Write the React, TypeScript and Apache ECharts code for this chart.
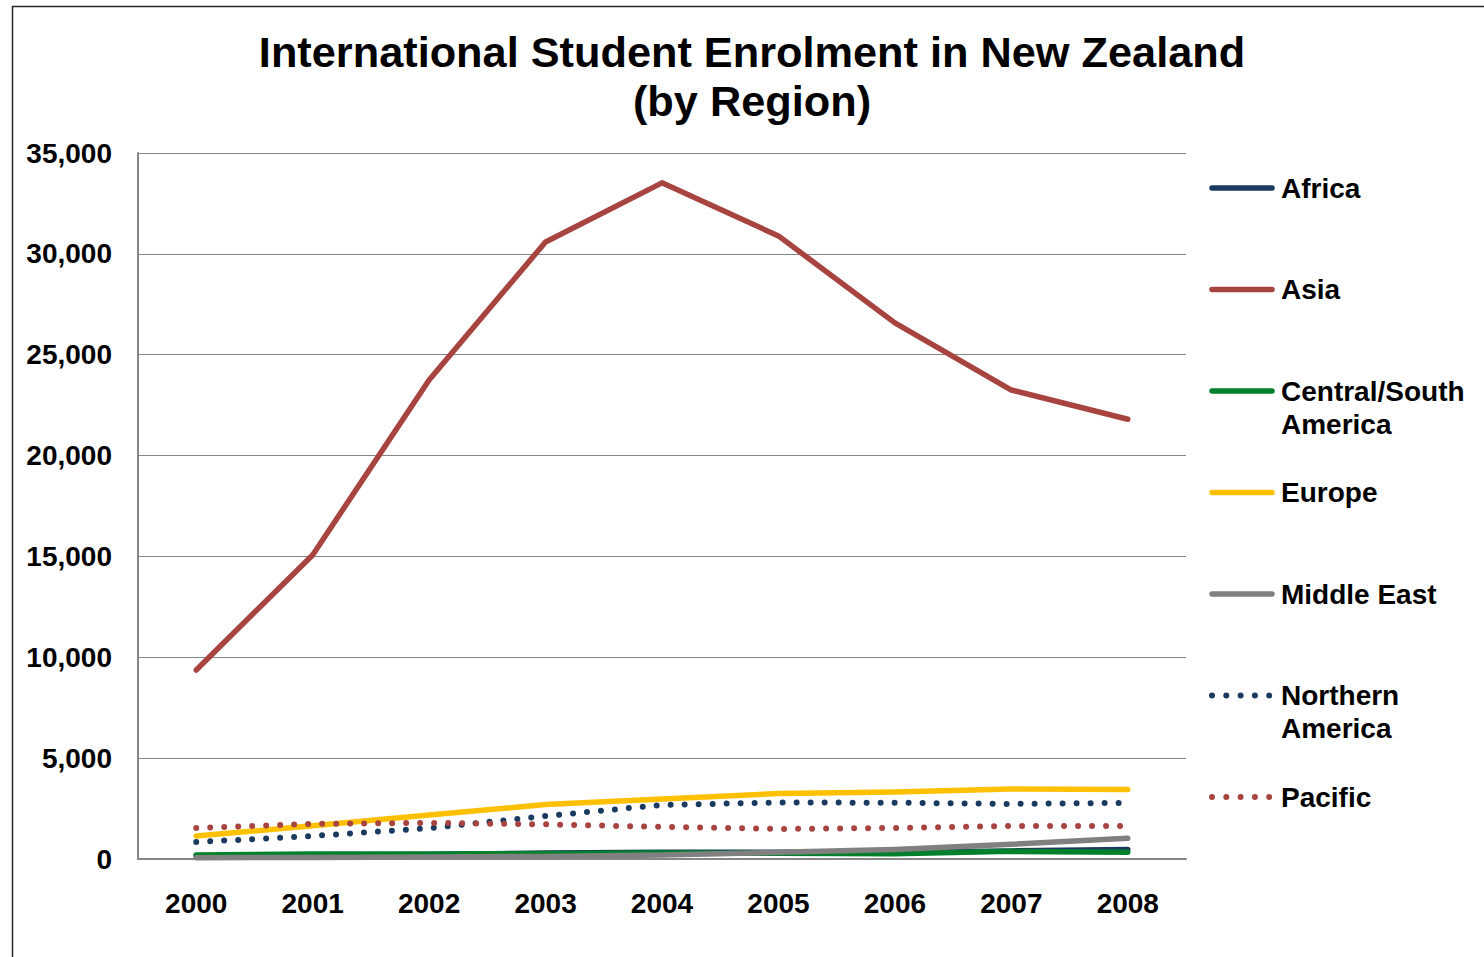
import React, { useEffect, useRef } from "react";
import * as echarts from "echarts";

const years = ["2000", "2001", "2002", "2003", "2004", "2005", "2006", "2007", "2008"];
const africa = [150, 200, 220, 300, 330, 330, 330, 400, 470];
const asia = [9370, 15070, 23750, 30590, 33520, 30890, 26580, 23250, 21800];
const centralSouthAmerica = [200, 250, 250, 260, 300, 280, 260, 380, 330];
const europe = [1140, 1650, 2180, 2700, 2970, 3250, 3320, 3470, 3450];
const middleEast = [60, 80, 100, 130, 200, 330, 470, 730, 1030];
const northernAmerica = [840, 1140, 1530, 2130, 2680, 2800, 2790, 2730, 2780];
const pacific = [1540, 1740, 1790, 1720, 1590, 1490, 1540, 1640, 1640];

const seriesNames = ["Africa", "Asia", "Central/South\nAmerica", "Europe", "Middle East", "Northern\nAmerica", "Pacific"];
const seriesData = [africa, asia, centralSouthAmerica, europe, middleEast, northernAmerica, pacific];
const seriesColors = ["#1B3A60", "#A8443F", "#00802A", "#FFC000", "#808080", "#1B3A60", "#A8443F"];
const seriesDotted = [false, false, false, false, false, true, true];

const FONT = "Arial, 'Liberation Sans', Helvetica, sans-serif";

export default function App() {
  const ref = useRef<HTMLDivElement>(null);
  useEffect(() => {
    if (!ref.current) return;
    const chart = echarts.init(ref.current, undefined, { renderer: "svg" });

    const legendGraphics: any[] = [];
    seriesNames.forEach((name, i) => {
      const cy = 188 + i * 101.5;
      legendGraphics.push({
        type: "line",
        shape: { x1: 1212, y1: cy, x2: 1272, y2: cy },
        style: {
          stroke: seriesColors[i],
          lineWidth: seriesDotted[i] ? 6 : 5.5,
          lineCap: "round",
          lineDash: seriesDotted[i] ? [0, 14.3] : null,
        },
      });
      legendGraphics.push({
        type: "text",
        x: 1281,
        y: cy - 16.5,
        style: {
          text: name,
          font: `bold 28px ${FONT}`,
          fill: "#000",
          lineHeight: 33,
          verticalAlign: "top",
          align: "left",
        },
      });
    });

    chart.setOption({
      animation: false,
      backgroundColor: "#fff",
      title: {
        text: "International Student Enrolment in New Zealand\n(by Region)",
        left: 752,
        top: 27,
        textAlign: "center",
        padding: 0,
        textStyle: {
          fontFamily: FONT,
          fontWeight: "bold",
          fontSize: 43.3,
          lineHeight: 49,
          color: "#000",
        },
      },
      grid: { left: 138, right: 298, top: 153, bottom: 98, containLabel: false },
      xAxis: {
        type: "category",
        data: years,
        boundaryGap: true,
        axisLine: { show: true, lineStyle: { color: "#868686", width: 2 } },
        axisTick: { show: false },
        axisLabel: {
          margin: 30,
          color: "#000",
          fontFamily: FONT,
          fontWeight: "bold",
          fontSize: 28,
        },
      },
      yAxis: {
        type: "value",
        min: 0,
        max: 35000,
        interval: 5000,
        axisLine: { show: true, lineStyle: { color: "#868686", width: 2 } },
        axisTick: { show: false },
        splitLine: { show: true, lineStyle: { color: "#868686", width: 1 } },
        axisLabel: {
          margin: 26,
          color: "#000",
          fontFamily: FONT,
          fontWeight: "bold",
          fontSize: 28,
          formatter: (v: number) => v.toLocaleString("en-US"),
        },
      },
      series: seriesNames.map((name, i) => ({
        name: name.replace("\n", " "),
        type: "line",
        data: seriesData[i],
        showSymbol: false,
        symbol: "none",
        lineStyle: {
          color: seriesColors[i],
          width: seriesDotted[i] ? 6 : 5.5,
          type: seriesDotted[i] ? [0, 14] : "solid",
          cap: "round",
          join: "round",
        },
        itemStyle: { color: seriesColors[i] },
      })),
      graphic: [
        {
          type: "rect",
          shape: { x: 12.5, y: 6.5, width: 1500, height: 1000 },
          style: { fill: "none", stroke: "#262626", lineWidth: 1.5 },
          silent: true,
        },
        ...legendGraphics,
      ],
    });

    return () => chart.dispose();
  }, []);

  return (
    <div
      ref={ref}
      style={{ position: "absolute", left: 0, top: 0, width: 1484, height: 957 }}
    />
  );
}
